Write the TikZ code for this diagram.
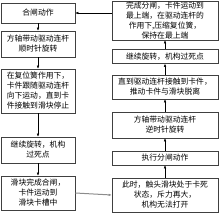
\documentclass[tikz,border=0pt]{standalone}
\usepackage{fontspec}
\setmainfont{Noto Sans CJK SC}
\usetikzlibrary{arrows.meta, positioning}

\begin{document}
\begin{tikzpicture}[
  x=1pt, y=-1pt,
  box/.style={draw=black!75, line width=0.6pt, align=center, font=\fontsize{7.8}{10}\selectfont, inner sep=0pt},
  lbox/.style={box, minimum width=74pt},
  rbox/.style={box, minimum width=106pt},
  arrow/.style={-{Latex[length=3pt, width=2.6pt]}, line width=0.5pt}
]
\useasboundingbox (0,0) rectangle (220,221);

% left column: closing
\node[lbox, minimum height=20pt] (close) at (38,13) {合闸动作};
\node[lbox, minimum height=26pt] (cwturn) at (38,44) {方轴带动驱动连杆\\顺时针旋转};
\node[lbox, minimum height=44pt] (spring) at (38,91) {在复位簧作用下，\\卡件跟随驱动连杆\\向下运动，直到卡\\件接触到滑块停止};
\node[lbox, minimum height=26pt] (deadl) at (38,150) {继续旋转，机构\\过死点};
\node[lbox, minimum height=34pt] (slide) at (38,193) {滑块完成合闸，\\卡件运动到\\滑块卡槽中};

% right column: opening
\node[rbox, minimum height=39pt] (open) at (165,20.5) {完成分闸，卡件运动到\\最上端，在驱动连杆的\\作用下,压缩复位簧，\\保持在最上端};
\node[rbox, minimum height=14pt] (deadr) at (165,56.5) {继续旋转，机构过死点};
\node[rbox, minimum height=24pt] (push) at (165,87) {直到驱动连杆接触到卡件，\\推动卡件与滑块脱离};
\node[rbox, minimum height=26pt] (ccwturn) at (165,125) {方轴带动驱动连杆\\逆时针旋转};
\node[rbox, minimum height=14pt] (trip) at (165,158) {执行分闸动作};
\node[rbox, minimum height=34pt] (stuck) at (165,195) {此时，触头滑块处于卡死\\状态，斥力再大，\\机构无法打开};

\draw[arrow] (close) -- (cwturn);
\draw[arrow] (cwturn) -- (spring);
\draw[arrow] (spring) -- (deadl);
\draw[arrow] (deadl) -- (slide);
\draw[arrow, draw=black!45, line width=1pt] (slide.east) -- (stuck.west);

\draw[arrow] (stuck) -- (trip);
\draw[arrow] (trip) -- (ccwturn);
\draw[arrow] (ccwturn) -- (push);
\draw[arrow] (push) -- (deadr);
\draw[arrow] (deadr) -- (open);
\draw[arrow] (open.west |- close.east) -- (close.east);
\end{tikzpicture}
\end{document}
